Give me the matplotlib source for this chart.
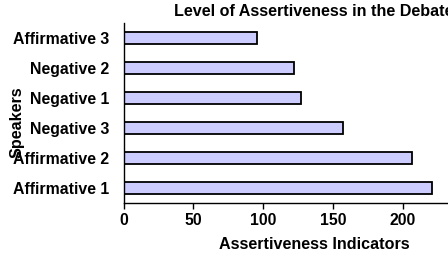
import matplotlib.pyplot as plt

# Speakers (bottom to top) and their assertiveness indicators
speakers = ['Affirmative 1', 'Affirmative 2', 'Negative 3', 'Negative 1', 'Negative 2', 'Affirmative 3']
indicators = [221, 207, 157, 127, 122, 96]
xticks = [0, 50, 100, 150, 200]

plt.rcParams['font.family'] = ['Liberation Sans', 'DejaVu Sans']
plt.rcParams['font.weight'] = 'bold'

fig = plt.figure(figsize=(4.48, 2.54), dpi=100)
# axes run past the right edge, like the cropped original
ax = fig.add_axes([123.5 / 448, 1 - 203 / 254, 381 / 448, 180 / 254])

ax.barh(speakers, indicators, height=0.4, color='#ccccff', edgecolor='black', linewidth=1.3)

ax.set_xlim(0, 273)
ax.set_ylim(-0.5, 5.5)
ax.set_xticks(xticks)
ax.spines['top'].set_visible(False)
ax.spines['right'].set_visible(False)
ax.spines['left'].set_linewidth(1.0)
ax.spines['bottom'].set_linewidth(1.0)
ax.tick_params(axis='y', length=0, pad=10, labelsize=11.4)
ax.tick_params(axis='x', length=4, width=1, labelsize=11.4, pad=3)
for lbl in ax.get_xticklabels() + ax.get_yticklabels():
    lbl.set_fontweight('bold')

ax.set_title('Level of Assertiveness in the Debate', fontsize=11.6, fontweight='bold', pad=5)
ax.set_xlabel('Assertiveness Indicators', fontsize=11.6, fontweight='bold', labelpad=7)
ax.set_ylabel('Speakers', fontsize=11.6, fontweight='bold')
ax.yaxis.set_label_coords(-0.26, 0.45)

fig.savefig('out.png', dpi=100)
